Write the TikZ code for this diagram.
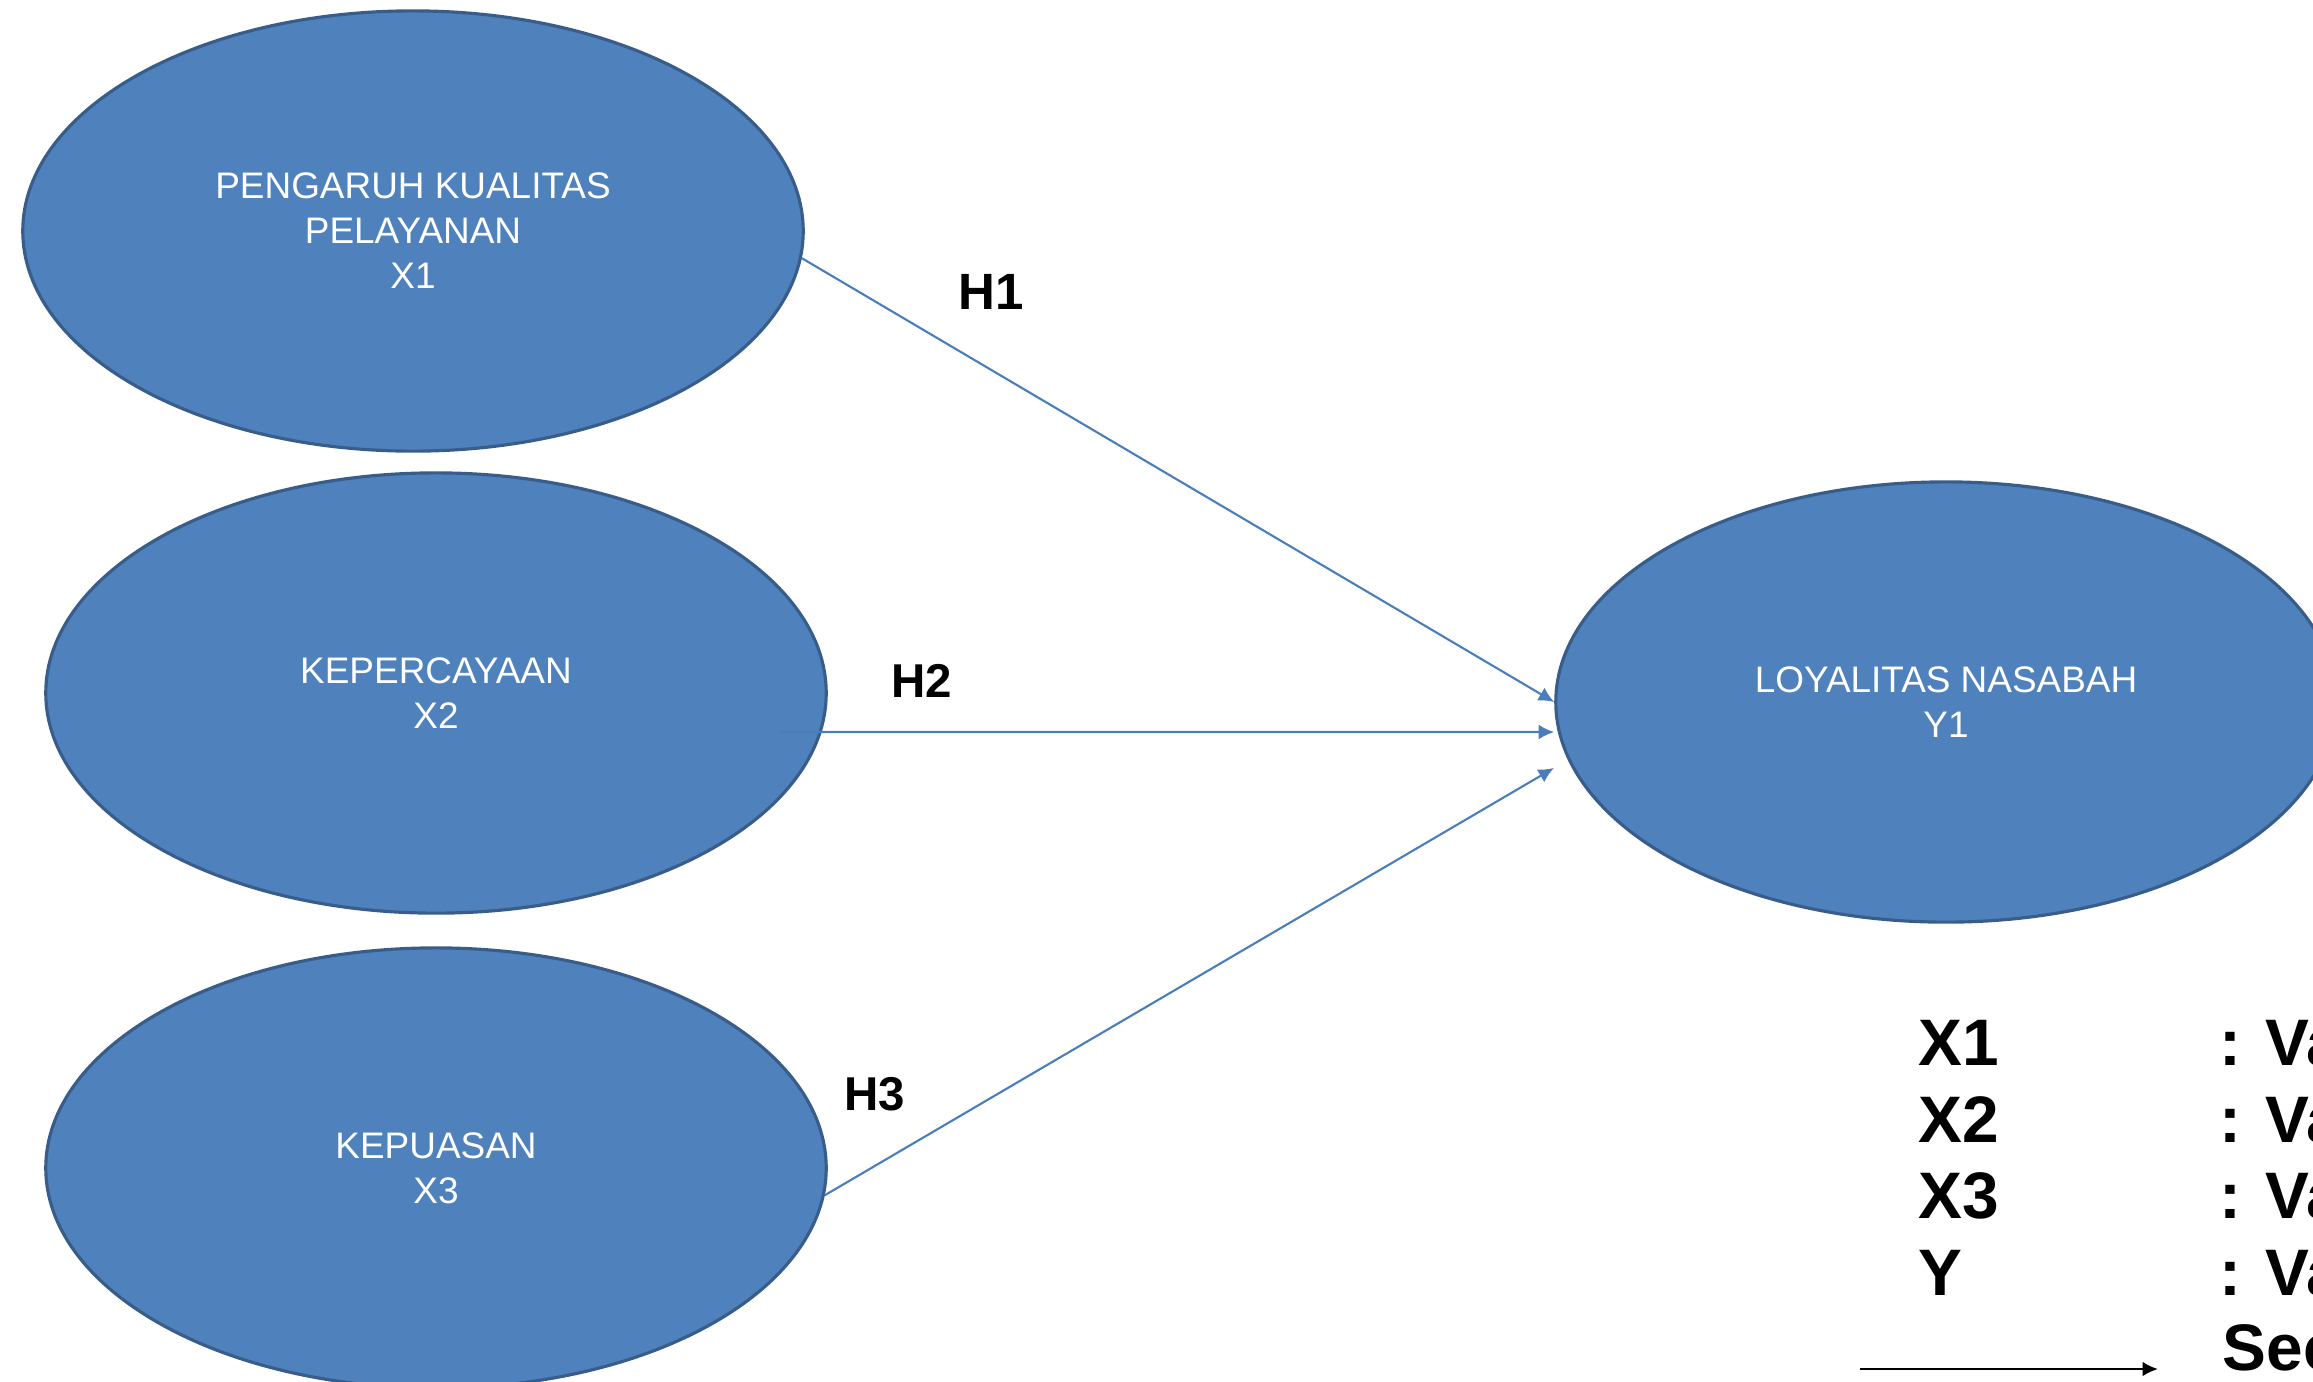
\documentclass[tikz,border=0pt]{standalone}
\usepackage{fontspec}
\setmainfont{Liberation Sans}
\usepackage{tikz}
\usetikzlibrary{shapes.geometric}
\usetikzlibrary{positioning,arrows.meta}
\usepackage{xcolor}
\definecolor{varfill}{HTML}{4F81BD}
\definecolor{varline}{HTML}{385D8A}
\definecolor{pathline}{HTML}{4A7EBB}

\begin{document}
\begin{tikzpicture}[x=0.01cm, y=-0.01cm]
        % Define block styles
        \tikzstyle{varnode} = [ellipse, draw=varline, line width=0.9pt, fill=varfill, text=white, minimum width=7.8cm, minimum height=4.4cm, inner sep=0pt, align=center, font=\fontsize{10.5}{12.8}\selectfont]
        \tikzstyle{line} = [draw=pathline, line width=0.6pt, -{Latex[length=4.4pt,width=4.2pt]}]
        \tikzstyle{hyp} = [inner sep=0pt, font=\fontsize{13.5}{16}\bfseries\selectfont]
        \tikzstyle{keytext} = [anchor=base west, inner sep=0pt, font=\fontsize{18.7}{22}\bfseries\selectfont]

        \useasboundingbox (0,0) rectangle (2313,1381);
        \clip (0,0) rectangle (2313,1381);

        % Nodes
        \node [varnode] (x1) at (413,231) {PENGARUH KUALITAS\\PELAYANAN\\X1};
        \node [varnode] (x2) at (436,693) {KEPERCAYAAN\\X2};
        \node [varnode] (x3) at (436,1168) {KEPUASAN\\X3};
        \node [varnode] (y1) at (1946,702) {LOYALITAS NASABAH\\Y1};

        % Arrows
        \path [line] (x1.-4.6) -- (y1.west);
        \path [line] ([xshift=-0.48cm, yshift=-0.39cm]x2.east) -- ([yshift=-0.3cm]y1.west);
        \path [line] (x3.-4) -- ([xshift=-0.18cm]y1.190);

        % Text labels
        \node [hyp, font=\fontsize{14.5}{16}\bfseries\selectfont] (h1) at (991,292) {H1};
        \node [hyp] (h2) at (922,681) {H2};
        \node [hyp] (h3) at (875,1094) {H3};

        % Legend
        \node [keytext] (kx1) at (1918,1065) {X1};
        \node [keytext] (kx2) at (1918,1142) {X2};
        \node [keytext] (kx3) at (1918,1218) {X3};
        \node [keytext] (ky) at (1918,1295) {Y};
        \node [keytext] (dx1) at (2219,1065) {: Va};
        \node [keytext] (dx2) at (2219,1142) {: Va};
        \node [keytext] (dx3) at (2219,1218) {: Va};
        \node [keytext] (dy) at (2219,1295) {: Va};
        \node [keytext] (dsec) at (2222,1370) {Sec};
        \coordinate (keystart) at (1860,1369);
        \coordinate (keyend) at (2158,1369);
        \draw [line width=0.75pt, -{Latex[length=4.4pt,width=4.2pt]}] (keystart) -- (keyend);

\end{tikzpicture}
\end{document}
